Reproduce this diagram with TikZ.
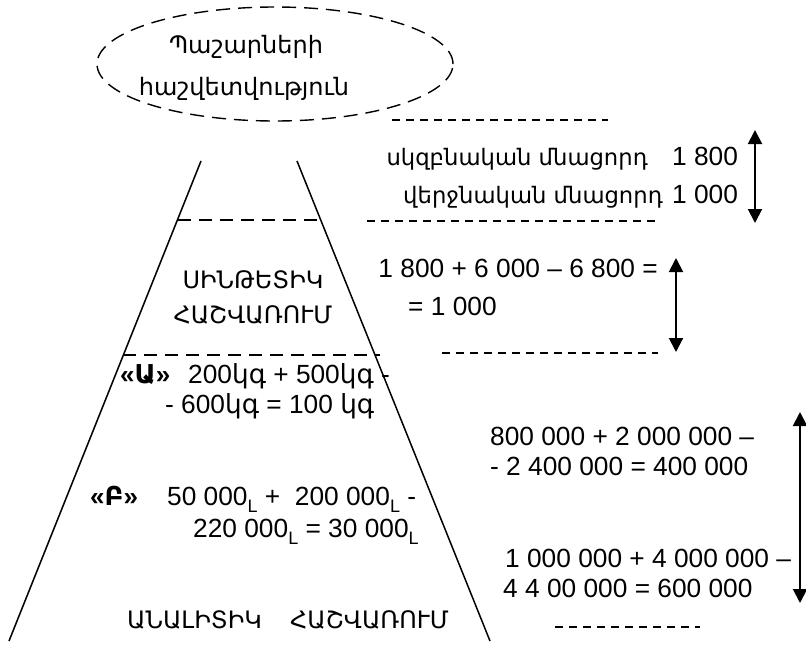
\documentclass[tikz,border=0pt]{standalone}
\usepackage{fontspec}
\setmainfont{Liberation Sans}
\newfontfamily\arm{DejaVu Sans}
\usetikzlibrary{arrows.meta,shapes.geometric}
% currency mark written as a lowered L after an amount
\newcommand{\dram}{\raisebox{-7pt}{\fontsize{18}{18}\selectfont L}}
\begin{document}
\begin{tikzpicture}[x=1pt,y=-1pt,
  txt/.style={inner sep=0pt, font=\fontsize{26.3}{30}\selectfont},
  armtxt/.style={inner sep=0pt, font=\fontsize{24}{28}\selectfont\arm},
  armsmall/.style={inner sep=0pt, font=\fontsize{22.7}{27}\selectfont\arm},
  edge/.style={line width=1.5pt},
  sep/.style={line width=1.4pt, dash pattern=on 13pt off 8pt},
  tick/.style={line width=1.2pt, dash pattern=on 8pt off 6pt},
  span/.style={line width=2pt, {Triangle[length=14pt,width=14pt]}-{Triangle[length=14pt,width=14pt]}},
]
\useasboundingbox (0,0) rectangle (806,648);

% title ellipse
\node[draw, ellipse, line width=1.4pt, dash pattern=on 14pt off 8pt,
      minimum width=356pt, minimum height=114pt, inner sep=0pt] (stock) at (275,64) {};
\node[armtxt, anchor=base] (st1) at (246,53) {Պաշարների};
\node[armtxt, anchor=base] (st2) at (244,95) {հաշվետվություն};

% pyramid sides
\coordinate (tl) at (201,161);
\coordinate (tr) at (297,161);
\coordinate (bl) at (9,641);
\coordinate (br) at (490,641);
\draw[edge] (tl) -- (bl);
\draw[edge] (tr) -- (br);

% levels inside the pyramid
\coordinate (l1a) at (178,220); \coordinate (l1b) at (322,220);
\coordinate (l2a) at (123,355); \coordinate (l2b) at (380,355);
\draw[sep] (l1a) -- (l1b);
\draw[sep] (l2a) -- (l2b);

% short dashed rules on the right
\coordinate (r1a) at (392,120); \coordinate (r1b) at (608,120);
\coordinate (r2a) at (367,221); \coordinate (r2b) at (657,221);
\coordinate (r3a) at (442,353); \coordinate (r3b) at (658,353);
\coordinate (r4a) at (555,627); \coordinate (r4b) at (700,627);
\draw[tick] (r1a) -- (r1b);
\draw[tick] (r2a) -- (r2b);
\draw[tick] (r3a) -- (r3b);
\draw[tick] (r4a) -- (r4b);

% double arrows
\coordinate (a1t) at (755,130); \coordinate (a1b) at (755,223);
\coordinate (a2t) at (676,258); \coordinate (a2b) at (676,352);
\coordinate (a3t) at (800,412); \coordinate (a3b) at (800,603);
\draw[span] (a1t) -- (a1b);
\draw[span] (a2t) -- (a2b);
\draw[span] (a3t) -- (a3b);

% balances
\node[armsmall, anchor=base east] (open) at (648,165) {սկզբնական մնացորդ};
\node[txt, anchor=base west] (openv) at (672,165) {1 800};
\node[armsmall, anchor=base east] (close) at (663,203) {վերջնական մնացորդ};
\node[txt, anchor=base west] (closev) at (672,203) {1 000};

% synthetic level
\node[armtxt, anchor=base] (syn1) at (253,288) {ՍԻՆԹԵՏԻԿ};
\node[armtxt, anchor=base] (syn2) at (253,323) {ՀԱՇՎԱՌՈՒՄ};
\node[txt, anchor=base east] (syneq1) at (658,277) {1 800 + 6 000 – 6 800 =};
\node[txt, anchor=base west] (syneq2) at (408,315) {= 1 000};

% analytic level
\node[txt, anchor=base west, font=\fontsize{26}{30}\selectfont\bfseries] (ka) at (120,383) {«{\arm Ա}»};
\node[txt, anchor=base west] (ka1) at (188,383) {200{\arm կգ} + 500{\arm կգ} -};
\node[txt, anchor=base west] (ka2) at (165,413) {- 600{\arm կգ} = 100 {\arm կգ}};
\node[txt, anchor=base west, font=\fontsize{26}{30}\selectfont\bfseries] (kb) at (90,505) {«{\arm Բ}»};
\node[txt, anchor=base west] (kb1) at (167,505) {50 000\dram{} + \ 200 000\dram{} -};
\node[txt, anchor=base west] (kb2) at (193,537) {220 000\dram{} = 30 000\dram};
\node[armtxt, anchor=base west] (ana1) at (127,628) {ԱՆԱԼԻՏԻԿ};
\node[armtxt, anchor=base west] (ana2) at (290,628) {ՀԱՇՎԱՌՈՒՄ};

% analytic totals
\node[txt, anchor=base west] (t1) at (490,445) {800 000 + 2 000 000 –};
\node[txt, anchor=base west] (t2) at (490,475) {- 2 400 000 = 400 000};
\node[txt, anchor=base west] (t3) at (505,567) {1 000 000 + 4 000 000 –};
\node[txt, anchor=base west] (t4) at (503,597) {4 4 00 000 = 600 000};
\end{tikzpicture}
\end{document}
